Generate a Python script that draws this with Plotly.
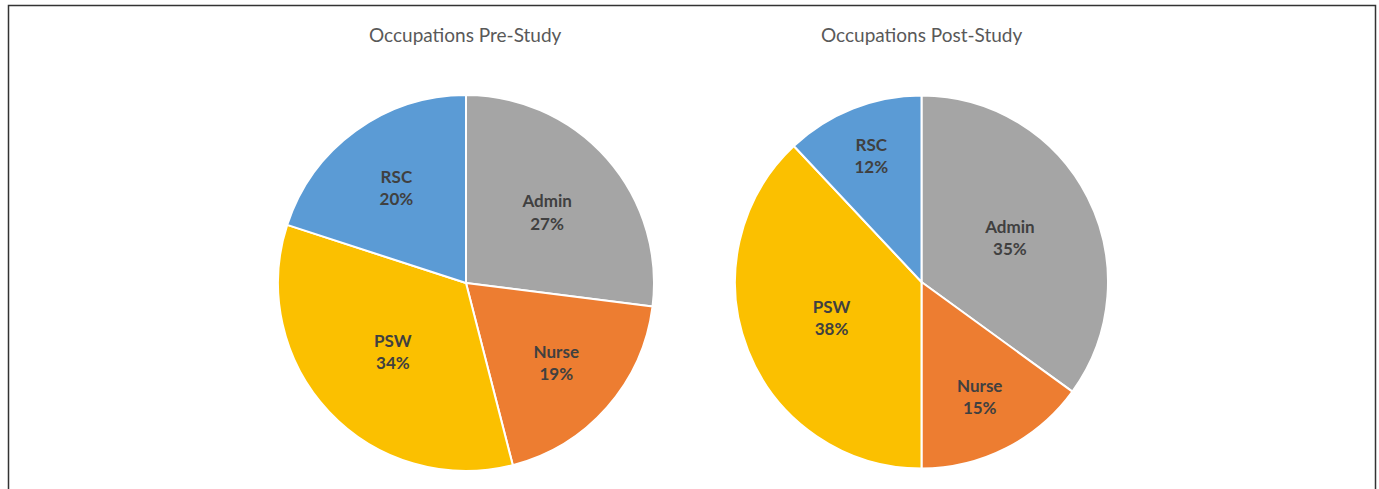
import plotly.graph_objects as go

labels = ["Admin", "Nurse", "PSW", "RSC"]
pre_study = [27, 19, 34, 20]
post_study = [35, 15, 38, 12]
colors = ["#A5A5A5", "#ED7D31", "#FBC000", "#5B9BD5"]
titles = ["Occupations Pre-Study", "Occupations Post-Study"]

W, H = 1379, 489
FONT = "Lato, Open Sans, sans-serif"

fig = go.Figure()


def add_pie(values, x0, x1, y_top, y_bot):
    fig.add_trace(go.Pie(
        labels=labels, values=values, sort=False, direction="clockwise", rotation=0,
        marker=dict(colors=colors, line=dict(color="white", width=2)),
        texttemplate="<b>%{label}<br>%{percent:.0%}</b>",
        textposition="inside", insidetextorientation="horizontal",
        textfont=dict(family=FONT, size=17, color="#404040"),
        domain=dict(x=[x0 / W, x1 / W], y=[1 - y_bot / H, 1 - y_top / H]),
        showlegend=False, hoverinfo="label+value+percent",
    ))


add_pie(pre_study, 277, 655, 95, 471)
add_pie(post_study, 735, 1108, 95, 469)

for t, cx in zip(titles, [465, 921]):
    fig.add_annotation(text=t, x=cx / W, y=1 - 34 / H, xref="paper", yref="paper",
                       xanchor="center", yanchor="middle", showarrow=False,
                       font=dict(family=FONT, size=19, color="#595959"))

# frame of the original figure (bottom edge is cropped off)
fig.add_shape(type="rect", xref="paper", yref="paper", x0=8.5 / W, x1=1375.5 / W, y0=-0.1, y1=1 - 5.5 / H,
              line=dict(color="#333333", width=1.5))

fig.update_layout(width=W, height=H, margin=dict(l=0, r=0, t=0, b=0),
                  paper_bgcolor="white", plot_bgcolor="white",
                  uniformtext=dict(minsize=17, mode="show"))

fig.write_html("out.html", config={"displayModeBar": False},
               post_script="document.body.style.margin='0px';")
